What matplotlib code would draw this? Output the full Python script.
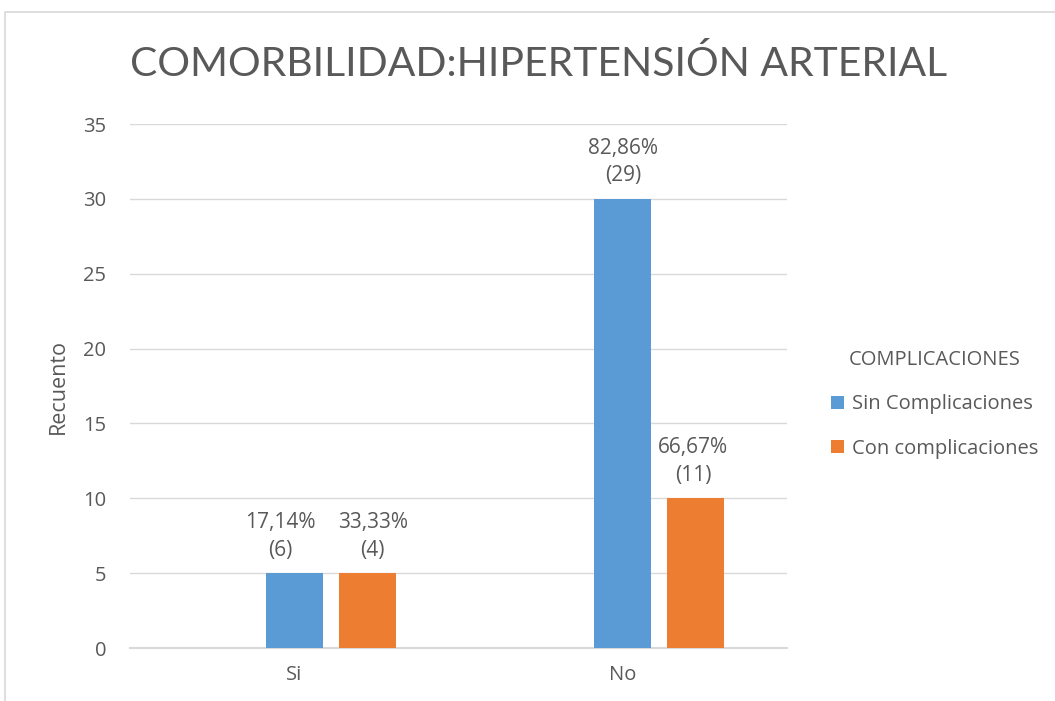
import matplotlib

matplotlib.use("Agg")
import matplotlib.pyplot as plt
import numpy as np
from matplotlib.patches import Rectangle

plt.rcParams["font.family"] = ["Open Sans", "DejaVu Sans"]

categories = ["Si", "No"]
series_names = ["Sin Complicaciones", "Con complicaciones"]
sin_values = [5, 30]
con_values = [5, 10]
sin_labels = ["17,14%\n(6)", "82,86%\n(29)"]
con_labels = ["33,33%\n(4)", "66,67%\n(11)"]
colors = ["#5b9bd5", "#ed7d31"]
text_color = "#595959"

# horizontal nudges (points) so the crowded labels over "Si" don't collide
sin_nudge = [-10, 0]
con_nudge = [4, -2]

fig = plt.figure(figsize=(10.55, 7.01), dpi=100)
ax = fig.add_axes([0.1232, 0.0756, 0.6228, 0.7475])

# chart area border (light gray, top and left visible)
fig.patches.append(Rectangle((5 / 1055, -0.05), 1.1, (701 - 12) / 701 + 0.05,
                             transform=fig.transFigure, fill=False,
                             edgecolor="#d9d9d9", linewidth=1.2))

x = np.arange(len(categories))
width = 0.1735
offset = 0.222

bars_sin = ax.bar(x, sin_values, width, color=colors[0], label=series_names[0], zorder=3)
bars_con = ax.bar(x + offset, con_values, width, color=colors[1], label=series_names[1], zorder=3)

for bars, labels, nudges in ((bars_sin, sin_labels, sin_nudge),
                             (bars_con, con_labels, con_nudge)):
    for bar, lab, dx in zip(bars, labels, nudges):
        ax.annotate(lab, (bar.get_x() + bar.get_width() / 2, bar.get_height()),
                    xytext=(dx, 9), textcoords="offset points",
                    ha="center", va="bottom", fontsize=15, color=text_color,
                    linespacing=1.42)

ax.set_xlim(-0.5, 1.5)
ax.set_ylim(0, 35)
ax.set_yticks(range(0, 36, 5))
ax.set_xticks(x)
ax.set_xticklabels(categories)
ax.tick_params(axis="both", length=0, labelsize=14.5, colors=text_color)
ax.tick_params(axis="y", pad=17)
ax.tick_params(axis="x", pad=12)
ax.grid(axis="y", color="#d9d9d9", linewidth=1, zorder=0)
for side in ("top", "right", "left"):
    ax.spines[side].set_visible(False)
ax.spines["bottom"].set_color("#d9d9d9")
ax.spines["bottom"].set_linewidth(1.5)

ax.set_ylabel("Recuento", fontsize=15.5, color=text_color, labelpad=10)

fig.text(539 / 1055, 1 - 64 / 701, "COMORBILIDAD:HIPERTENSIÓN ARTERIAL",
         ha="center", va="center", fontsize=29.4, color=text_color,
         family=["Lato", "DejaVu Sans"])

leg = ax.legend(loc="center left", bbox_to_anchor=(1.04, 0.465), frameon=False,
                title="COMPLICACIONES", fontsize=14.5, title_fontsize=14.5,
                handlelength=0.6, handleheight=0.6, handletextpad=0.4,
                labelspacing=1.2, labelcolor=text_color)
leg.get_title().set_color(text_color)

fig.savefig("out.png", dpi=100)
